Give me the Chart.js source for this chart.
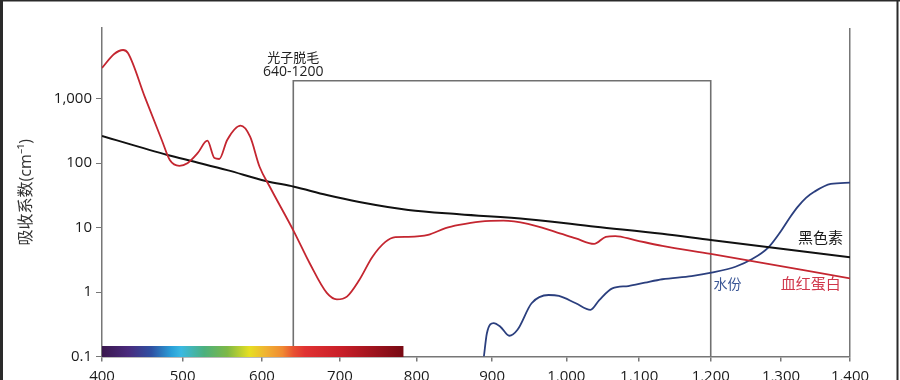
<!DOCTYPE html>
<html>
<head>
<meta charset="utf-8">
<script src="https://cdn.jsdelivr.net/npm/chart.js@4.4.1/dist/chart.umd.min.js"></script>
<style>
  html, body { margin: 0; padding: 0; background: #fff; overflow: hidden; }
  #wrap { width: 900px; height: 380px; position: relative; }
</style>
</head>
<body>
<div id="wrap"><canvas id="dia" width="900" height="380"></canvas></div>
<script>
// values (nm / cm-1)
const yTicks = [0.1, 1, 10, 100, 1000];

const hemoWl  = [400, 415, 426, 432, 453, 474, 484, 496, 506, 519, 531, 540, 546, 556, 573, 585, 597, 610, 641, 661, 683, 696, 709, 725, 742, 759, 772, 789, 815, 838, 856, 884, 915, 948, 985, 1013, 1038, 1054, 1067, 1094, 1132, 1200, 1400];
const hemoVal = [3000, 4940, 5700, 5120, 1060, 229, 112, 91, 100, 144, 223, 120, 116, 229, 381, 257, 88, 43, 8.6, 2.8, 0.97, 0.77, 0.85, 1.54, 3.5, 6.0, 7.1, 7.2, 7.7, 9.8, 11, 12.4, 12.8, 11.4, 8.6, 6.8, 5.6, 7.2, 7.4, 6.4, 5.2, 3.9, 1.63];

const melWl  = [400, 481, 515, 556, 605, 641, 683, 725, 789, 856, 948, 1040, 1132, 1200, 1400];
const melVal = [264, 134, 105, 78, 53, 43, 32, 25, 18.8, 16.1, 13.5, 10.3, 8.0, 6.4, 3.46];

const waterWl  = [889, 893, 902, 911, 923, 934, 953, 976, 990, 1013, 1033, 1045, 1063, 1085, 1108, 1132, 1173, 1201, 1235, 1258, 1282, 1301, 1314, 1324, 1336, 1348, 1372, 1400];
const waterVal = [0.1, 0.23, 0.33, 0.29, 0.21, 0.26, 0.67, 0.90, 0.87, 0.67, 0.53, 0.75, 1.14, 1.24, 1.40, 1.58, 1.77, 2.0, 2.47, 3.22, 4.95, 9.2, 15, 21, 29, 36, 47.5, 49.7];

// IPL hair removal window 640-1200
const boxWl  = [640, 640, 1200, 1200];
const boxVal = [0.1, 1900, 1900, 0.1];

// visible spectrum bar
const specWl     = [400, 432, 461, 486, 498, 527, 556, 584, 605, 626, 640, 655, 702, 780];
const specColors = ['#3b184e', '#4a2a7c', '#2f50a2', '#2a9fd8', '#3ab9e2', '#4cb07e', '#7db846', '#e6df22', '#f0b232', '#f08a32', '#e85232', '#e03232', '#c81e28', '#7a0a14'];

const font = '"Open Sans", "Noto Sans CJK SC", sans-serif';

// the x axis of the picture is a bit squeezed towards the long wavelengths
const K = 0.0863;
function warp(d) { return d * (1 + K * (1 - d)); }
function unwarp(f) { return ((1 + K) - Math.sqrt((1 + K) * (1 + K) - 4 * K * f)) / (2 * K); }

class WarpScale extends Chart.LinearScale {
  static id = 'warp';
  static defaults = {};
  getPixelForValue(value) {
    if (value === null || value === undefined) return NaN;
    return this.getPixelForDecimal(warp((value - this._startValue) / this._valueRange));
  }
  getValueForPixel(pixel) {
    return this._startValue + unwarp(this.getDecimalForPixel(pixel)) * this._valueRange;
  }
}
Chart.register(WarpScale);

function pts(xs, ys) { return xs.map((x, i) => ({ x: x, y: ys[i] })); }

const frame = {
  id: 'frame',
  afterDraw(chart) {
    const ctx = chart.ctx;
    const xs = chart.scales.x, ys = chart.scales.y;
    const bottom = chart.chartArea.bottom;
    // spectrum bar
    const x0 = xs.getPixelForValue(specWl[0]);
    const x1 = xs.getPixelForValue(specWl[specWl.length - 1]) + 2;
    const g = ctx.createLinearGradient(x0, 0, x1, 0);
    specWl.forEach((w, i) => g.addColorStop(Math.min(1, (xs.getPixelForValue(w) - x0) / (x1 - x0)), specColors[i]));
    ctx.save();
    ctx.fillStyle = g;
    ctx.fillRect(x0, bottom - 10.5, x1 - x0, 11);

    // labels
    const notes = [
      { t: '光子脱毛', x: 640, y: 4290, c: '#222', a: 'center', s: 13 },
      { t: '640-1200', x: 640, y: 2590, c: '#222', a: 'center', s: 14 },
      { t: '黑色素', x: 1357, y: 6.65, c: '#1a1a1a', a: 'center', s: 15 },
      { t: '水份', x: 1204, y: 1.29, c: '#3b5796', a: 'left', s: 14 },
      { t: '血红蛋白', x: 1343, y: 1.29, c: '#d0364a', a: 'center', s: 15 }
    ];
    ctx.textBaseline = 'middle';
    notes.forEach(n => {
      ctx.font = n.s + 'px ' + font;
      ctx.fillStyle = n.c;
      ctx.textAlign = n.a;
      ctx.fillText(n.t, xs.getPixelForValue(n.x), ys.getPixelForValue(n.y));
    });

    // outer photo frame
    ctx.fillStyle = '#2a2a2a';
    ctx.fillRect(0, 0, 900, 1.5);
    ctx.fillRect(0, 0, 3, 380);
    ctx.fillRect(896.5, 0, 2, 380);
    ctx.restore();
  }
};

new Chart(document.getElementById('dia'), {
  type: 'line',
  data: {
    datasets: [
      { label: '血红蛋白', data: pts(hemoWl, hemoVal), borderColor: '#c42630', borderWidth: 1.8, cubicInterpolationMode: 'monotone' },
      { label: '黑色素', data: pts(melWl, melVal), borderColor: '#111', borderWidth: 2, cubicInterpolationMode: 'monotone' },
      { label: '水份', data: pts(waterWl, waterVal), borderColor: '#2b3f7e', borderWidth: 1.8, cubicInterpolationMode: 'monotone' },
      { label: '光子脱毛', data: pts(boxWl, boxVal), borderColor: '#707070', borderWidth: 1.6, tension: 0 }
    ]
  },
  options: {
    responsive: false,
    animation: false,
    devicePixelRatio: 1,
    elements: { point: { radius: 0 } },
    layout: { padding: { top: 28, right: 50, left: 0, bottom: 0 } },
    plugins: { legend: { display: false }, tooltip: { enabled: false } },
    scales: {
      x: {
        type: 'warp',
        min: 400,
        max: 1400,
        afterFit: s => { s.height = 23.5; },
        ticks: {
          stepSize: 100,
          autoSkip: false,
          maxRotation: 0,
          padding: 6,
          color: '#1a1a1a',
          font: { family: font, size: 15 },
          callback: v => v.toLocaleString('en-US')
        },
        grid: {
          color: c => (c.tick && c.tick.value === 1400) ? '#777' : 'rgba(0,0,0,0)',
          lineWidth: 1.5,
          tickColor: '#777',
          tickLength: 5
        },
        border: { display: true, color: '#777', width: 1.5 }
      },
      y: {
        type: 'logarithmic',
        min: 0.1,
        max: 12500,
        afterFit: s => { s.width = 102; },
        afterBuildTicks: s => { s.ticks = yTicks.map(v => ({ value: v })); },
        ticks: {
          padding: 4,
          color: '#1a1a1a',
          font: { family: font, size: 15 },
          callback: v => v >= 1000 ? v.toLocaleString('en-US') : String(v)
        },
        grid: { drawOnChartArea: false, tickColor: '#777', tickLength: 6 },
        border: { display: true, color: '#777', width: 1.5 },
        title: {
          display: true,
          text: '吸收系数(cm⁻¹)',
          color: '#333',
          font: { family: font, size: 16 },
          padding: { top: 17, bottom: 0 }
        }
      }
    }
  },
  plugins: [frame]
});
</script>
</body>
</html>
